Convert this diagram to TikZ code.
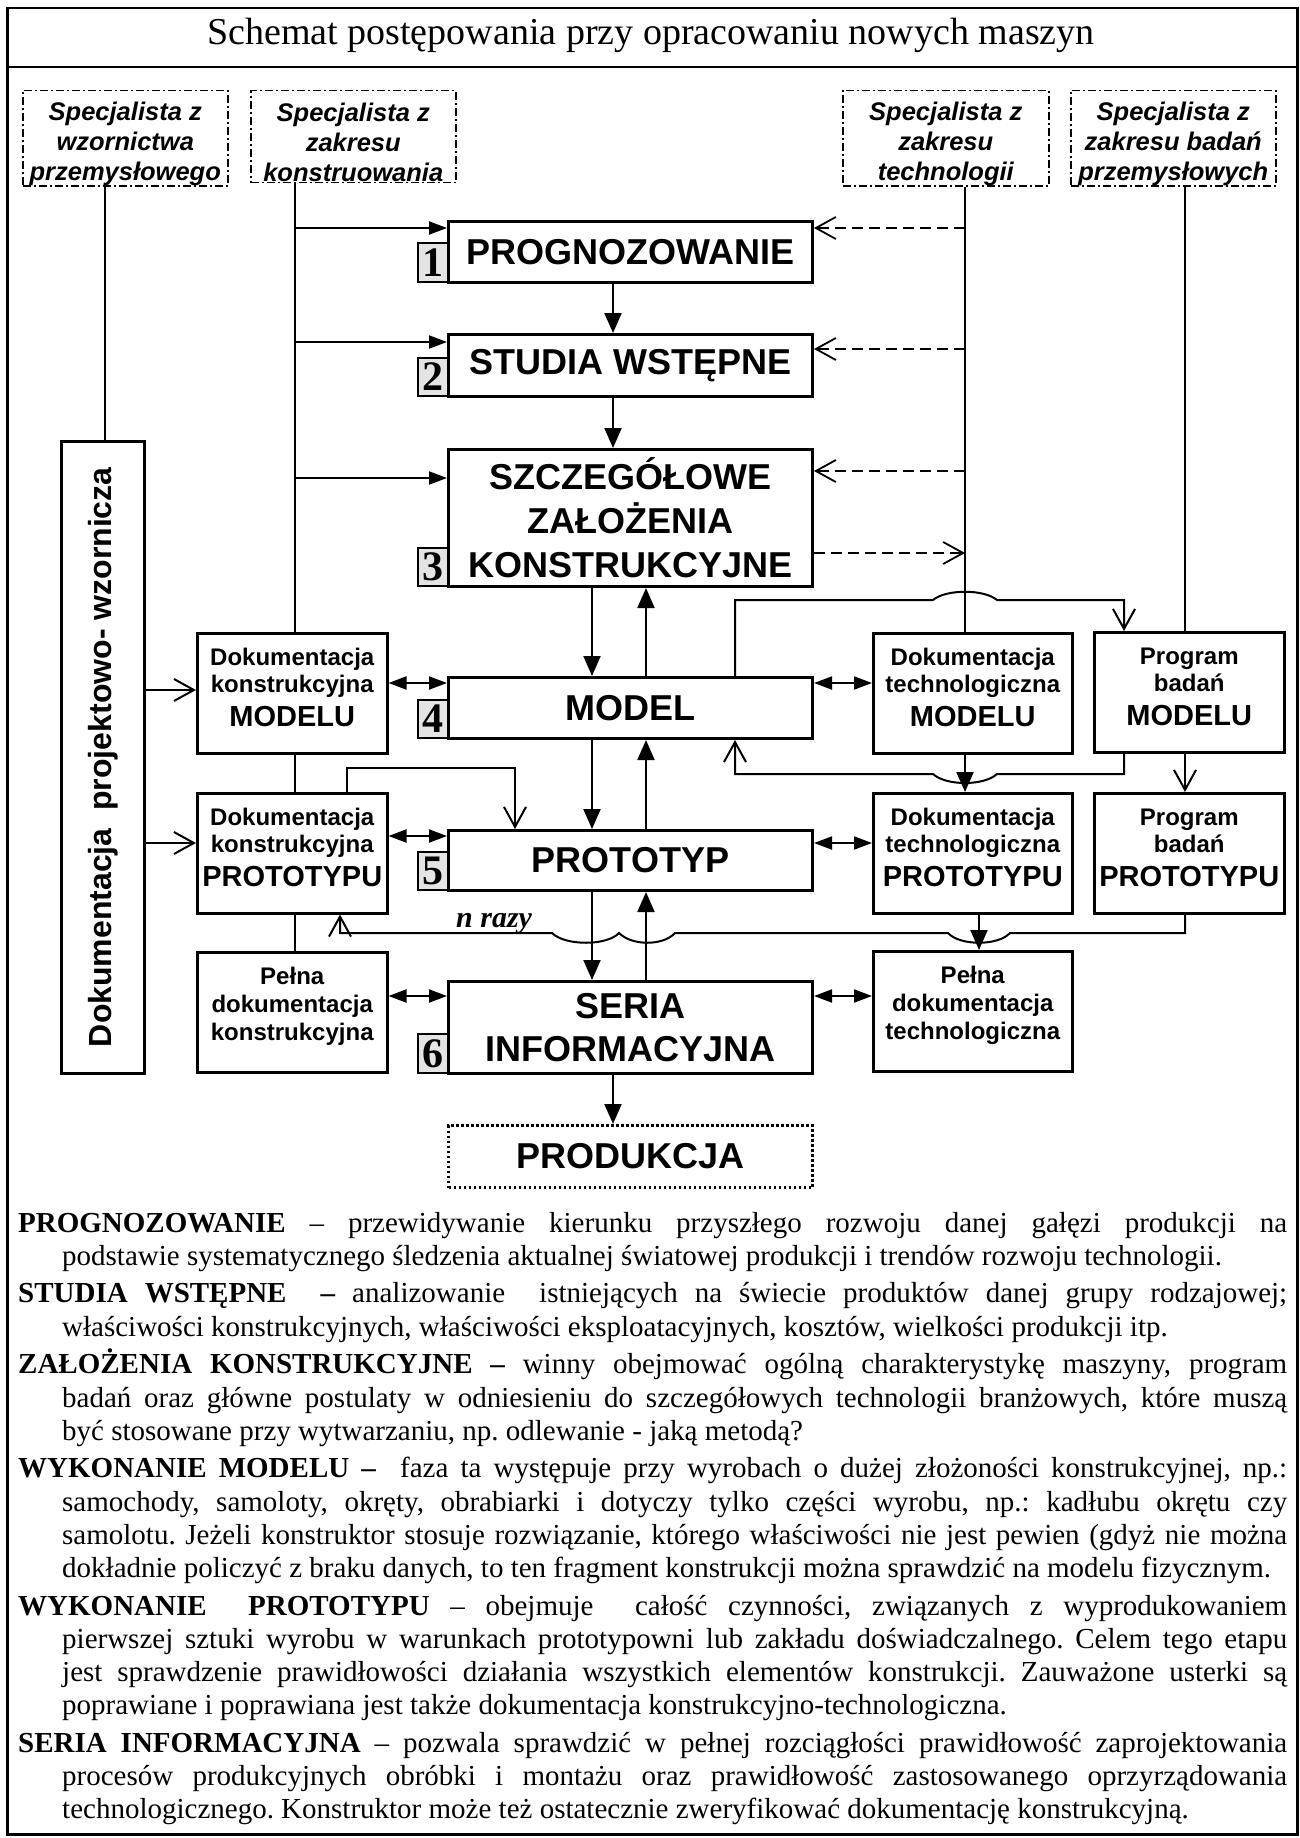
\documentclass[tikz,border=0pt]{standalone}
\usepackage{fontspec}
\setmainfont{Liberation Serif}
\setsansfont{Liberation Sans}
\usepackage{graphicx}
\usetikzlibrary{arrows.meta}
\definecolor{numgray}{RGB}{228,228,228}
\newcommand\myhang{\hangindent=44pt\hangafter=1\relax}
\newcommand\capw[1]{{\fontsize{29}{33}\selectfont #1}}
\tikzset{
 mainbox/.style={draw, line width=3pt, anchor=north west, inner sep=0pt, minimum width=364pt, align=center, font=\sffamily\bfseries\fontsize{36}{44}\selectfont},
 numbox/.style={draw, line width=2pt, fill=numgray, anchor=north west, inner sep=0pt, minimum width=30pt, font=\rmfamily\bfseries\fontsize{42}{42}\selectfont},
 sidebox/.style={draw, line width=2.5pt, anchor=north west, inner sep=0pt, minimum height=120pt, align=center, font=\sffamily\bfseries\fontsize{24}{27}\selectfont},
 specbox/.style={draw, line width=1.5pt, dash pattern=on 8pt off 3pt on 2pt off 3pt, anchor=north west, inner sep=0pt, minimum height=92pt, align=center, font=\sffamily\bfseries\itshape\fontsize{25.5}{30}\selectfont},
 conn/.style={line width=2pt},
 fa/.style={conn, -{Triangle[length=18pt,width=13pt]}},
 fda/.style={conn, {Triangle[length=18pt,width=13pt]}-{Triangle[length=18pt,width=13pt]}},
 va/.style={line width=2.2pt, -{Triangle[length=20pt,width=17pt]}},
 oa/.style={conn, -{Straight Barb[length=20pt,width=22pt]}},
 da/.style={line width=1.8pt, dash pattern=on 11pt off 6pt, -{Straight Barb[length=20pt,width=22pt]}},
}
\begin{document}
\begin{tikzpicture}[x=1pt,y=-1pt]
\useasboundingbox (0,0) rectangle (1299,1838);
% frame and title
\node[draw, line width=2.5pt, anchor=north west, inner sep=0pt, minimum width=1290pt, minimum height=1826pt] (frame) at (6,7) {};
\draw[line width=2.5pt] (frame.west |- 0,67) -- (frame.east |- 0,67);
\node[anchor=base, inner sep=0pt, font=\rmfamily\fontsize{38}{38}\selectfont] (title) at (651,45) {Schemat postępowania przy opracowaniu nowych maszyn};

% specialists
\node[specbox, minimum width=205pt] (s1) at (22,90) {\rule{0pt}{30pt}Specjalista z\\wzornictwa\\przemysłowego};
\node[specbox, minimum width=205pt] (s2) at (250,90) {\rule{0pt}{30pt}Specjalista z\\zakresu\\konstruowania};
\node[specbox, minimum width=206pt] (s3) at (842,90) {\rule{0pt}{30pt}Specjalista z\\zakresu\\technologii};
\node[specbox, minimum width=205pt] (s4) at (1070,90) {\rule{0pt}{30pt}Specjalista z\\zakresu badań\\przemysłowych};

% number boxes
\node[numbox, minimum height=39pt] (n1) at (417,242) {1};
\node[numbox, minimum height=38pt] (n2) at (417,357) {2};
\node[numbox, minimum height=38pt] (n3) at (417,547) {3};
\node[numbox, minimum height=38pt] (n4) at (417,699) {4};
\node[numbox, minimum height=38pt] (n5) at (417,851) {5};
\node[numbox, minimum height=39pt] (n6) at (417,1033) {6};

% main boxes
\node[mainbox, minimum height=61pt] (prog) at (447,220) {PROGNOZOWANIE};
\node[mainbox, minimum height=62pt] (stud) at (447,333) {STUDIA WSTĘPNE};
\node[mainbox, minimum height=137pt] (szcz) at (447,448) {SZCZEGÓŁOWE\\ZAŁOŻENIA\\KONSTRUKCYJNE};
\node[mainbox, minimum height=61pt] (model) at (447,676) {MODEL};
\node[mainbox, minimum height=60pt] (proto) at (447,829) {PROTOTYP};
\node[mainbox, minimum height=92pt, font=\sffamily\bfseries\fontsize{36}{43}\selectfont] (seria) at (447,980) {SERIA\\INFORMACYJNA};
\node[mainbox, minimum height=62pt, dash pattern=on 2.5pt off 2.5pt] (prod) at (447,1124) {PRODUKCJA};

% left column
\node[draw, line width=2.5pt, anchor=north west, inner sep=0pt, minimum width=83pt, minimum height=632pt, font=\sffamily\bfseries\fontsize{32}{32}\selectfont] (proj) at (60,440) {\rotatebox{90}{Dokumentacja\ \ projektowo- wzornicza}};
\node[sidebox, minimum width=190pt] (dkm) at (196,632) {Dokumentacja\\konstrukcyjna\\[7pt]\capw{MODELU}\rule[-12pt]{0pt}{1pt}};
\node[sidebox, minimum width=190pt] (dkp) at (196,792) {Dokumentacja\\konstrukcyjna\\[7pt]\capw{PROTOTYPU}\rule[-12pt]{0pt}{1pt}};
\node[sidebox, minimum width=190pt, font=\sffamily\bfseries\fontsize{24}{28}\selectfont] (pk) at (196,951) {Pełna\\dokumentacja\\konstrukcyjna\rule[-16pt]{0pt}{1pt}};

% right columns
\node[sidebox, minimum width=199pt] (dtm) at (872,632) {Dokumentacja\\technologiczna\\[7pt]\capw{MODELU}\rule[-12pt]{0pt}{1pt}};
\node[sidebox, minimum width=190pt] (pbm) at (1093,631) {Program\\badań\\[7pt]\capw{MODELU}\rule[-12pt]{0pt}{1pt}};
\node[sidebox, minimum width=199pt] (dtp) at (872,792) {Dokumentacja\\technologiczna\\[7pt]\capw{PROTOTYPU}\rule[-12pt]{0pt}{1pt}};
\node[sidebox, minimum width=190pt] (pbp) at (1093,792) {Program\\badań\\[7pt]\capw{PROTOTYPU}\rule[-12pt]{0pt}{1pt}};
\node[sidebox, minimum width=199pt, font=\sffamily\bfseries\fontsize{24}{28}\selectfont] (pt) at (872,950) {Pełna\\dokumentacja\\technologiczna\rule[-16pt]{0pt}{1pt}};

% specialist lines
\coordinate (xa) at (105,0);
\coordinate (xk) at (295,0);
\coordinate (xt) at (965,0);
\coordinate (xb) at (1185,0);
\draw[conn] (s1.south -| xa) -- (proj.north -| xa);
\draw[conn] (s2.south -| xk) -- (dkm.north -| xk);
\draw[conn] (dkm.south -| xk) -- (dkp.north -| xk);
\draw[conn] (dkp.south -| xk) -- (pk.north -| xk);
\draw[conn] (s3.south -| xt) -- (dtm.north -| xt);
\draw[conn] (s4.south -| xb) -- (pbm.north -| xb);

% arrows from the design line
\draw[fa] (xk |- 0,228) -- (prog.west |- 0,228);
\draw[fa] (xk |- 0,342) -- (stud.west |- 0,342);
\draw[fa] (xk |- 0,478) -- (szcz.west |- 0,478);
% dashed arrows from technology line
\draw[da] (xt |- 0,228) -- (prog.east |- 0,228);
\draw[da] (xt |- 0,349) -- (stud.east |- 0,349);
\draw[da] (xt |- 0,471) -- (szcz.east |- 0,471);
\draw[da] (szcz.east |- 0,553) -- (xt |- 0,553);

% main vertical arrows
\draw[va] (prog.south -| 613,0) -- (stud.north -| 613,0);
\draw[va] (stud.south -| 613,0) -- (szcz.north -| 613,0);
\draw[va] (szcz.south -| 592,0) -- (model.north -| 592,0);
\draw[va] (model.north -| 646,0) -- (szcz.south -| 646,0);
\draw[va] (model.south -| 592,0) -- (proto.north -| 592,0);
\draw[va] (proto.north -| 646,0) -- (model.south -| 646,0);
\draw[va] (proto.south -| 592,0) -- (seria.north -| 592,0);
\draw[va] (seria.north -| 646,0) -- (proto.south -| 646,0);
\draw[va] (seria.south -| 613,0) -- (prod.north -| 613,0);

% side arrows
\draw[oa] (proj.east |- 0,690) -- (dkm.west |- 0,690);
\draw[oa] (proj.east |- 0,843) -- (dkp.west |- 0,843);
\draw[fda] (dkm.east |- 0,683) -- (model.west |- 0,683);
\draw[fda] (model.east |- 0,683) -- (dtm.west |- 0,683);
\draw[fda] (dkp.east |- 0,836) -- (proto.west |- 0,836);
\draw[fda] (proto.east |- 0,843) -- (dtp.west |- 0,843);
\draw[fda] (pk.east |- 0,996) -- (seria.west |- 0,996);
\draw[fda] (seria.east |- 0,996) -- (pt.west |- 0,996);

% feedback connectors
\draw[oa] (model.north -| 735,0) -- (735,600) -- (933,600) .. controls (946,589) and (984,589) .. (997,600) -- (1124,600) -- (pbm.north -| 1124,0);
\draw[oa] (pbm.south -| 1124,0) -- (1124,774) -- (997,774) .. controls (984,786) and (946,786) .. (933,774) -- (735,774) -- (model.south -| 735,0);
\draw[va] (dtm.south -| xt) -- (dtp.north -| xt);
\draw[oa] (pbm.south -| xb) -- (pbp.north -| xb);
\draw[oa] (dkp.north -| 347,0) -- (347,768) -- (515,768) -- (proto.north -| 515,0);
\draw[oa] (pbp.south -| xb) -- (1185,933) -- (1010,933) .. controls (998,946) and (960,946) .. (948,933) -- (675,933) .. controls (663,946) and (632,946) .. (619,933) .. controls (607,946) and (565,946) .. (552,933) -- (340,933) -- (dkp.south -| 340,0);
\draw[va] (dtp.south -| 979,0) -- (pt.north -| 979,0);
\node[anchor=base west, inner sep=0pt, font=\rmfamily\bfseries\itshape\fontsize{30}{30}\selectfont] (nrazy) at (456,927) {n razy};

% description
\node[anchor=base west, inner sep=0pt] (desc) at (18,1232) {\begin{minipage}[t]{1269pt}
\fontsize{29}{33.2}\selectfont\frenchspacing
\setlength{\parindent}{0pt}\setlength{\parskip}{4.5pt}
\tolerance=9999 \hyphenpenalty=10000 \exhyphenpenalty=10000 \hfuzz=20pt
\myhang\textbf{PROGNOZOWANIE} – przewidywanie kierunku przyszłego rozwoju danej gałęzi produkcji na\linebreak podstawie systematycznego śledzenia aktualnej światowej produkcji i trendów rozwoju technologii.\par
\myhang\textbf{STUDIA WSTĘPNE\ \ –} analizowanie\ \ istniejących na świecie produktów danej grupy rodzajowej;\linebreak właściwości konstrukcyjnych, właściwości eksploatacyjnych, kosztów, wielkości produkcji itp.\par
\myhang\textbf{ZAŁOŻENIA KONSTRUKCYJNE –} winny obejmować ogólną charakterystykę maszyny, program\linebreak badań oraz główne postulaty w odniesieniu do szczegółowych technologii branżowych, które muszą\linebreak być stosowane przy wytwarzaniu, np. odlewanie - jaką metodą?\par
\myhang\textbf{WYKONANIE MODELU –}\ \ faza ta występuje przy wyrobach o dużej złożoności konstrukcyjnej, np.:\linebreak samochody, samoloty, okręty, obrabiarki i dotyczy tylko części wyrobu, np.: kadłubu okrętu czy\linebreak samolotu. Jeżeli konstruktor stosuje rozwiązanie, którego właściwości nie jest pewien (gdyż nie można\linebreak dokładnie policzyć z braku danych, to ten fragment konstrukcji można sprawdzić na modelu fizycznym.\par
\myhang\textbf{WYKONANIE\ \ PROTOTYPU} – obejmuje\ \ całość czynności, związanych z wyprodukowaniem\linebreak pierwszej sztuki wyrobu w warunkach prototypowni lub zakładu doświadczalnego. Celem tego etapu\linebreak jest sprawdzenie prawidłowości działania wszystkich elementów konstrukcji. Zauważone usterki są\linebreak poprawiane i poprawiana jest także dokumentacja konstrukcyjno-technologiczna.\par
\myhang\textbf{SERIA INFORMACYJNA} – pozwala sprawdzić w pełnej rozciągłości prawidłowość zaprojektowania\linebreak procesów produkcyjnych obróbki i montażu oraz prawidłowość zastosowanego oprzyrządowania\linebreak technologicznego. Konstruktor może też ostatecznie zweryfikować dokumentację konstrukcyjną.\par
\end{minipage}};
\end{tikzpicture}
\end{document}
